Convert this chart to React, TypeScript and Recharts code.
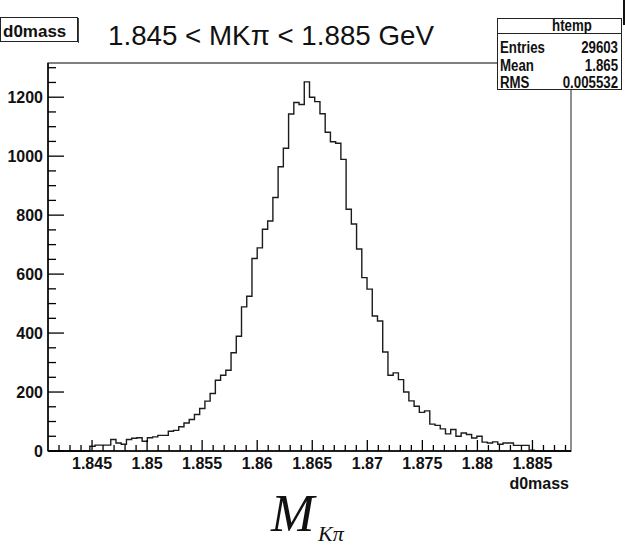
import React from 'react';
import { ComposedChart, Line, XAxis, YAxis, ReferenceArea } from 'recharts';

// ROOT-style histogram of d0mass, 100 bins across the axis range
const X_MIN = 1.841;
const BIN_WIDTH = 0.000475;
const N_BINS = 100;
const X_MAX = X_MIN + N_BINS * BIN_WIDTH;
const Y_MAX = 1316;
const FIRST_FILLED_BIN = 8;

// bin contents, starting at bin FIRST_FILLED_BIN (all other bins are empty)
const binCounts = [
  16, 20, 20, 20, 39, 27, 23, 39, 43, 45, 33, 45, 48, 53, 53,
  67, 70, 82, 95, 107, 124, 144, 169, 195, 240, 257, 274, 333, 389,
  489, 525, 653, 689, 752, 780, 860, 964, 1027, 1143,
  1182, 1175, 1252, 1200, 1185, 1144, 1081, 1049, 1044, 989,
  820, 770, 685, 588, 549, 458, 441, 336, 257, 265,
  242, 200, 170, 152, 131, 136, 91, 87, 75, 58, 73, 50, 61, 56,
  44, 50, 30, 27, 31, 23, 27, 27, 19, 19, 19, 3,
];

const xTickLabels = ['1.845', '1.85', '1.855', '1.86', '1.865', '1.87', '1.875', '1.88', '1.885'];
const yTickLabels = [0, 200, 400, 600, 800, 1000, 1200];
const statsNames = ['Entries', 'Mean', 'RMS'];
const statsValues = ['29603', '1.865', '0.005532'];

const counts = Array.from({ length: N_BINS }, (_, i) => {
  const j = i - FIRST_FILLED_BIN;
  return j >= 0 && j < binCounts.length ? binCounts[j] : 0;
});
const histData = counts.map((n, i) => ({ x: X_MIN + i * BIN_WIDTH, n }));
histData.push({ x: X_MAX, n: counts[N_BINS - 1] });

// minor ticks every 0.001 on x, every 50 on y
const xTicks: number[] = [];
for (let k = 1842; k <= 1888; k++) xTicks.push(k / 1000);
const yTicks: number[] = [];
for (let v = 0; v <= 1300; v += 50) yTicks.push(v);

const FONT = "'Liberation Sans', Arial, Helvetica, sans-serif";
const SERIF = "'Liberation Serif', 'Times New Roman', serif";

const XTick = (props: any) => {
  const { x, y, payload } = props;
  const label = xTickLabels.find(l => Math.abs(Number(l) - payload.value) < 1e-7);
  return (
    <g>
      <line x1={x} x2={x} y1={y} y2={y - (label ? 11 : 6)} stroke="#000" strokeWidth={1.3} />
      {label && (
        <text x={x} y={y + 18} textAnchor="middle" fontFamily={FONT} fontWeight="bold" fontSize={16} fill="#111">
          {label}
        </text>
      )}
    </g>
  );
};

const YTick = (props: any) => {
  const { x, y, payload } = props;
  const major = yTickLabels.includes(payload.value);
  return (
    <g>
      <line x1={x} x2={x + (major ? 16 : 8)} y1={y} y2={y} stroke="#000" strokeWidth={1.3} />
      {major && (
        <text x={x - 5} y={y} dy="0.36em" textAnchor="end" fontFamily={FONT} fontWeight="bold" fontSize={16} fill="#111">
          {payload.value}
        </text>
      )}
    </g>
  );
};

// condensed bold text for the stats box (no narrow font installed)
const Narrow = ({ x, y, anchor, children }: any) => (
  <g transform={`translate(${x},${y}) scale(0.78,1)`}>
    <text x={0} y={0} textAnchor={anchor || 'start'} fontFamily={FONT} fontWeight="bold" fontSize={17} fill="#111">
      {children}
    </text>
  </g>
);

export default function App() {
  return (
    <div style={{ position: 'absolute', left: 0, top: 0, width: 625, height: 548, background: '#fff', overflow: 'hidden' }}>
      <ComposedChart
        width={625}
        height={548}
        data={histData}
        margin={{ top: 63, right: 54, bottom: 57, left: 0 }}
      >
        <ReferenceArea x1={X_MIN} x2={X_MAX} y1={0} y2={Y_MAX} fill="none" stroke="#555" strokeWidth={1.3} ifOverflow="visible" />
        <XAxis
          dataKey="x"
          type="number"
          domain={[X_MIN, X_MAX]}
          ticks={xTicks}
          interval={0}
          tickSize={0}
          tickMargin={0}
          tickLine={false}
          tick={<XTick />}
          height={40}
          axisLine={{ stroke: '#000', strokeWidth: 1.5 }}
        />
        <YAxis
          type="number"
          domain={[0, Y_MAX]}
          ticks={yTicks}
          interval={0}
          tickSize={0}
          tickMargin={0}
          tickLine={false}
          tick={<YTick />}
          width={48}
          axisLine={{ stroke: '#000', strokeWidth: 1.5 }}
        />
        <Line
          dataKey="n"
          type="stepAfter"
          stroke="#1c1c1c"
          strokeWidth={1.4}
          dot={false}
          activeDot={false}
          isAnimationActive={false}
        />
      </ComposedChart>
      <svg width={625} height={548} style={{ position: 'absolute', left: 0, top: 0, pointerEvents: 'none' }}>
        {/* histogram title box */}
        <rect x={0.5} y={17.5} width={77} height={24} fill="#fff" stroke="#222" strokeWidth={1} />
        <line x1={78.5} y1={18} x2={78.5} y2={43} stroke="#444" strokeWidth={1} />
        <text x={3} y={37} fontFamily={FONT} fontWeight="bold" fontSize={17} fill="#111">d0mass</text>

        <text x={108} y={45} fontFamily={FONT} fontSize={28} fill="#111" textLength={326} lengthAdjust="spacingAndGlyphs">
          1.845 &lt; MKπ &lt; 1.885 GeV
        </text>

        {/* stats box */}
        <rect x={497.5} y={18.5} width={124} height={71} fill="#fff" stroke="#222" strokeWidth={1} />
        <line x1={498} y1={33.5} x2={622} y2={33.5} stroke="#222" strokeWidth={1} />
        <Narrow x={572} y={31} anchor="middle">htemp</Narrow>
        {statsNames.map((name, i) => (
          <g key={name}>
            <Narrow x={500} y={53 + i * 17.5}>{name}</Narrow>
            <Narrow x={618} y={53 + i * 17.5} anchor="end">{statsValues[i]}</Narrow>
          </g>
        ))}
        <line x1={624} y1={0} x2={624} y2={25} stroke="#111" strokeWidth={2} />

        <text x={569} y={489} textAnchor="end" fontFamily={FONT} fontWeight="bold" fontSize={16} fill="#111">d0mass</text>

        <text x={271} y={531} fontFamily={SERIF} fontStyle="italic" fontSize={52} fill="#111">M</text>
        <text x={318} y={541} fontFamily={SERIF} fontStyle="italic" fontSize={22} fill="#111">Kπ</text>
      </svg>
    </div>
  );
}
